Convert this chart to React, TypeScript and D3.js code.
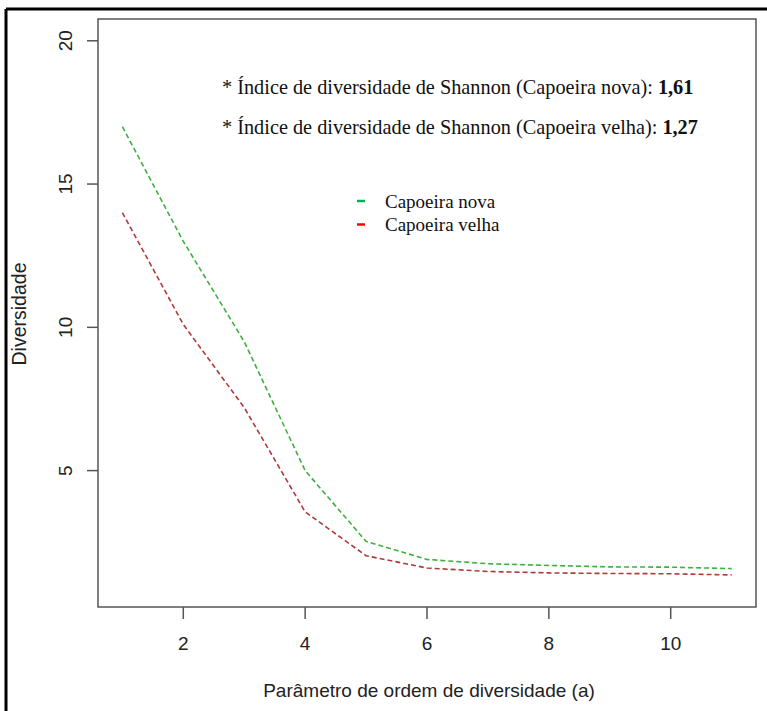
import React from "react";
import * as d3 from "d3";

const orders = [1, 2, 3, 4, 5, 6, 7, 8, 9, 10, 11];
const capoeiraNova = [17.0, 13.0, 9.5, 5.0, 2.53, 1.9, 1.75, 1.69, 1.64, 1.63, 1.58];
const capoeiraVelha = [14.0, 10.1, 7.2, 3.56, 2.03, 1.6, 1.48, 1.43, 1.41, 1.4, 1.36];
const xTicks = [2, 4, 6, 8, 10];
const yTicks = [5, 10, 15, 20];
const seriesNames = ["Capoeira nova", "Capoeira velha"];
const shannon = ["1,61", "1,27"];

const W = 767;
const H = 711;
const plot = { left: 98, right: 756, top: 19, bottom: 607 };

export default function App() {
  const x = d3.scaleLinear().domain([0.6, 11.4]).range([plot.left, plot.right]);
  const y = d3.scaleLinear().domain([0.24, 20.76]).range([plot.bottom, plot.top]);
  const line = d3
    .line<number>()
    .x((_, i) => x(orders[i]))
    .y((d) => y(d));

  const axisColor = "#555";
  const lineColors = ["#3fb03f", "#b03a3a"];
  const legendColors = ["#00b050", "#ff0000"];
  const sans = "Liberation Sans, Arial, sans-serif";
  const serif = "Liberation Serif, Times New Roman, serif";

  return (
    <svg
      width={W}
      height={H}
      style={{ position: "absolute", left: 0, top: 0, background: "#fff" }}
    >
      <rect x={0} y={0} width={W} height={H} fill="#fff" />
      {/* outer frame */}
      <line x1={6} y1={9} x2={W} y2={9} stroke="#000" strokeWidth={3} />
      <line x1={6} y1={9} x2={6} y2={H} stroke="#000" strokeWidth={3} />

      {/* plot box */}
      <rect
        x={plot.left}
        y={plot.top}
        width={plot.right - plot.left}
        height={plot.bottom - plot.top}
        fill="none"
        stroke={axisColor}
        strokeWidth={1.5}
      />

      {/* y axis ticks */}
      {yTicks.map((t) => (
        <g key={"y" + t}>
          <line x1={plot.left - 11} x2={plot.left} y1={y(t)} y2={y(t)} stroke={axisColor} strokeWidth={1.5} />
          <text
            transform={`translate(${65},${y(t)}) rotate(-90)`}
            textAnchor="middle"
            dominantBaseline="central"
            fontFamily={sans}
            fontSize={19}
            fill="#222"
          >
            {t}
          </text>
        </g>
      ))}

      {/* x axis ticks */}
      {xTicks.map((t) => (
        <g key={"x" + t}>
          <line x1={x(t)} x2={x(t)} y1={plot.bottom} y2={plot.bottom + 12} stroke={axisColor} strokeWidth={1.5} />
          <text
            x={x(t)}
            y={643}
            textAnchor="middle"
            dominantBaseline="central"
            fontFamily={sans}
            fontSize={19}
            fill="#222"
          >
            {t}
          </text>
        </g>
      ))}

      {/* axis titles */}
      <text
        x={429}
        y={690}
        textAnchor="middle"
        dominantBaseline="central"
        fontFamily={sans}
        fontSize={19}
        fill="#222"
      >
        Parâmetro de ordem de diversidade (a)
      </text>
      <text
        transform={`translate(${19},${314}) rotate(-90)`}
        textAnchor="middle"
        dominantBaseline="central"
        fontFamily={sans}
        fontSize={19.5}
        fill="#222"
      >
        Diversidade
      </text>

      {/* series */}
      {[capoeiraNova, capoeiraVelha].map((s, i) => (
        <path
          key={"s" + i}
          d={line(s) || ""}
          fill="none"
          stroke={lineColors[i]}
          strokeWidth={1.6}
          strokeDasharray="5,3"
        />
      ))}

      {/* annotations */}
      {seriesNames.map((n, i) => (
        <text
          key={"a" + i}
          x={222}
          y={87 + i * 40}
          dominantBaseline="central"
          fontFamily={serif}
          fontSize={20.3}
          fill="#111"
        >
          {`* Índice de diversidade de Shannon (${n}): `}
          <tspan fontWeight="bold">{shannon[i]}</tspan>
        </text>
      ))}

      {/* legend */}
      {seriesNames.map((n, i) => (
        <g key={"l" + i}>
          <line
            x1={357}
            x2={365}
            y1={201 + i * 23.5}
            y2={201 + i * 23.5}
            stroke={legendColors[i]}
            strokeWidth={2.5}
          />
          <text
            x={385}
            y={201 + i * 23.5}
            dominantBaseline="central"
            fontFamily={serif}
            fontSize={19}
            fill="#111"
          >
            {n}
          </text>
        </g>
      ))}
    </svg>
  );
}
